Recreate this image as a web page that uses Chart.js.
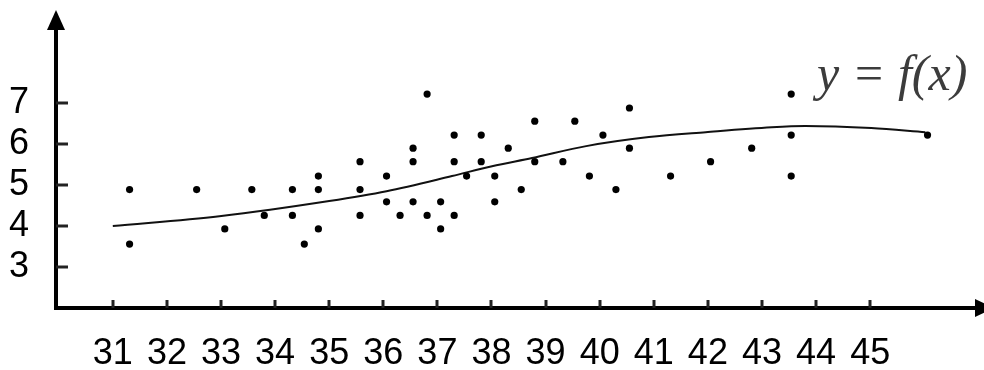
<!DOCTYPE html>
<html>
<head>
<meta charset="utf-8">
<script src="https://cdn.jsdelivr.net/npm/chart.js@4/dist/chart.umd.min.js"></script>
<style>
html,body{margin:0;padding:0;background:#fff;}
#wrap{width:984px;height:370px;}
</style>
</head>
<body>
<div id="wrap"><canvas id="c" width="984" height="370"></canvas></div>
<script>
// ---- data ----
const pointX = [31.31,31.31,32.55,33.07,33.57,33.80,34.32,34.32,34.54,34.80,34.80,34.80,
  35.57,35.57,35.57,36.06,36.06,36.31,36.55,36.55,36.55,36.81,36.81,37.06,37.06,
  37.31,37.31,37.31,37.54,37.81,37.81,38.06,38.06,38.31,38.55,38.80,38.80,39.32,
  39.54,39.81,40.06,40.30,40.55,40.55,41.31,42.05,42.81,43.54,43.54,43.54,46.06];
const pointY = [4.89,3.56,4.89,3.93,4.89,4.26,4.89,4.26,3.56,5.22,4.89,3.93,
  5.57,4.89,4.26,5.22,4.59,4.26,5.90,5.57,4.59,7.22,4.26,4.59,3.93,
  6.22,5.57,4.26,5.22,6.22,5.57,5.22,4.59,5.90,4.89,6.56,5.57,5.57,
  6.56,5.22,6.22,4.89,6.88,5.90,5.22,5.57,5.90,7.22,6.22,5.22,6.22];
const curveX = [31.0,32.97,35.0,36.06,37.27,38.01,38.75,39.75,40.91,41.96,43.18,43.80,45.02,46.02];
const curveY = [4.00,4.24,4.61,4.85,5.22,5.46,5.66,5.95,6.17,6.29,6.41,6.44,6.39,6.29];
const xTicks = [31,32,33,34,35,36,37,38,39,40,41,42,43,44,45];
const yTicks = [3,4,5,6,7];
const curveLabel = 'y = f(x)';

const scatterData = pointX.map((x,i)=>({x:x, y:pointY[i]}));
const curveData = curveX.map((x,i)=>({x:x, y:curveY[i]}));

const tickFont = {family:'"Liberation Sans", Arial, sans-serif', size:36, weight:'normal'};

const axesPlugin = {
  id:'axesPlugin',
  beforeDatasetsDraw(chart){
    const ctx = chart.ctx;
    const xs = chart.scales.x, ys = chart.scales.y;
    const y0 = ys.getPixelForValue(ys.min);
    const x0 = xs.getPixelForValue(xs.min);
    ctx.save();
    ctx.strokeStyle = '#000';
    ctx.fillStyle = '#000';
    ctx.lineWidth = 4;
    ctx.lineCap = 'butt';
    // x axis
    ctx.beginPath(); ctx.moveTo(x0-2, y0); ctx.lineTo(978, y0); ctx.stroke();
    // y axis
    ctx.beginPath(); ctx.moveTo(x0, y0+2); ctx.lineTo(x0, 26); ctx.stroke();
    // arrow heads
    ctx.beginPath(); ctx.moveTo(x0, 10); ctx.lineTo(x0-9, 30); ctx.lineTo(x0+9, 30); ctx.closePath(); ctx.fill();
    ctx.beginPath(); ctx.moveTo(994, y0); ctx.lineTo(975, y0-9); ctx.lineTo(975, y0+9); ctx.closePath(); ctx.fill();
    // tick marks (inward)
    ctx.strokeStyle = '#222';
    ctx.lineWidth = 3;
    xTicks.forEach(v=>{
      const px = Math.round(xs.getPixelForValue(v));
      ctx.beginPath(); ctx.moveTo(px, y0-8); ctx.lineTo(px, y0); ctx.stroke();
    });
    yTicks.forEach(v=>{
      const py = Math.round(ys.getPixelForValue(v));
      ctx.beginPath(); ctx.moveTo(x0, py); ctx.lineTo(x0+12, py); ctx.stroke();
    });
    ctx.restore();
  },
  afterDraw(chart){
    const ctx = chart.ctx;
    ctx.save();
    ctx.font = 'italic 50px "Liberation Serif", "Times New Roman", serif';
    ctx.fillStyle = '#3c3c3c';
    ctx.textBaseline = 'alphabetic';
    ctx.textAlign = 'left';
    ctx.fillText(curveLabel, 817, 90);
    ctx.restore();
  }
};

new Chart(document.getElementById('c'), {
  type:'scatter',
  data:{
    datasets:[
      {
        type:'line',
        data:curveData,
        borderColor:'#111',
        borderWidth:2,
        pointRadius:0,
        fill:false,
        cubicInterpolationMode:'monotone',
        order:2
      },
      {
        type:'scatter',
        data:scatterData,
        backgroundColor:'#000',
        borderColor:'#000',
        borderWidth:0,
        pointRadius:3.6,
        pointStyle:'circle',
        order:1
      }
    ]
  },
  options:{
    responsive:false,
    animation:false,
    devicePixelRatio:1,
    layout:{padding:{top:15,right:2,left:0,bottom:0}},
    plugins:{legend:{display:false}, tooltip:{enabled:false}, title:{display:false}},
    scales:{
      x:{
        type:'linear',
        min:29.95, max:47.03,
        afterBuildTicks:(s)=>{ s.ticks = xTicks.map(v=>({value:v})); },
        afterFit:(s)=>{ s.height = 62; s.paddingLeft = 0; s.paddingRight = 0; },
        grid:{display:false, drawTicks:false},
        border:{display:false},
        ticks:{font:tickFont, color:'#000', padding:24, maxRotation:0, minRotation:0, autoSkip:false, callback:(v)=>String(v)}
      },
      y:{
        type:'linear',
        min:2, max:9.15,
        afterBuildTicks:(s)=>{ s.ticks = yTicks.map(v=>({value:v})); },
        afterFit:(s)=>{ s.width = 56; s.paddingTop = 0; s.paddingBottom = 0; },
        grid:{display:false, drawTicks:false},
        border:{display:false},
        ticks:{font:tickFont, color:'#000', padding:27, autoSkip:false, callback:(v)=>String(v)}
      }
    }
  },
  plugins:[axesPlugin]
});
</script>
</body>
</html>
